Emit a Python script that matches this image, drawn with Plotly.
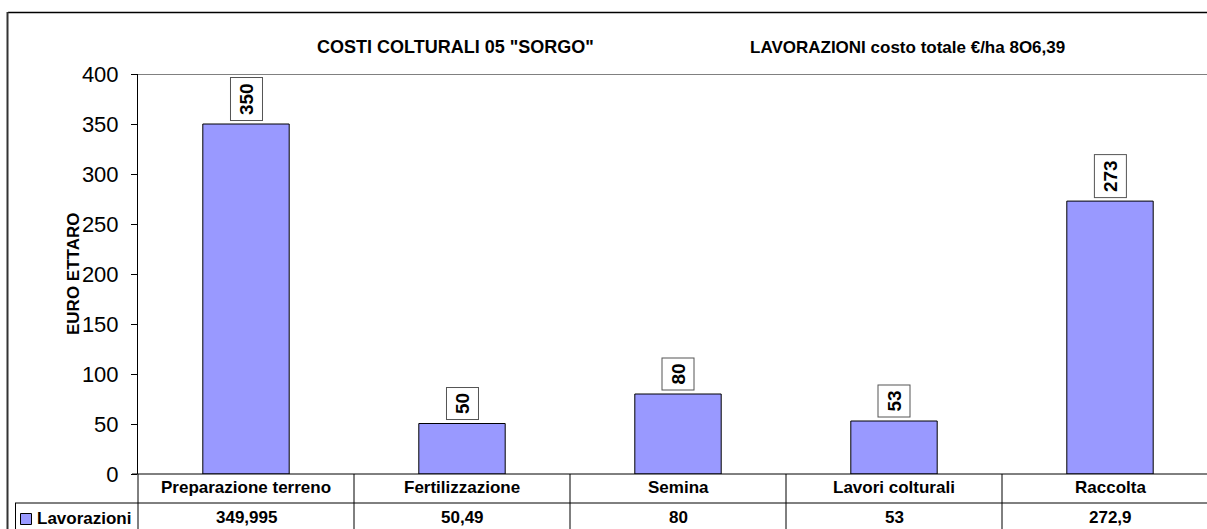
import plotly.graph_objects as go

categories = ["Preparazione terreno", "Fertilizzazione", "Semina", "Lavori colturali", "Raccolta"]
values = [349.995, 50.49, 80, 53, 272.9]
series_name = "Lavorazioni"
title_left = 'COSTI COLTURALI 05 "SORGO"'
title_right = "LAVORAZIONI costo totale €/ha 8O6,39"
y_title = "EURO ETTARO"
y_ticks = [0, 50, 100, 150, 200, 250, 300, 350, 400]

W, H = 1207, 529
L, T, B = 138, 74, 474   # pixel positions of plot area
FONT = "Arial, Liberation Sans, sans-serif"
BAR = "#9999FF"


def px(x):
    return (x - L) / (W - L)


def py(y):
    return (B - y) / (B - T)


xs = list(range(len(categories)))
fig = go.Figure()
fig.add_trace(go.Bar(
    x=xs, y=values, width=0.4,
    marker=dict(color=BAR, line=dict(color="#000000", width=1)),
    name=series_name, showlegend=False, hoverinfo="skip",
))

ann = []
shapes = []
for i, v in enumerate(values):
    ann.append(dict(x=i, y=v, xref="x", yref="y", text=f"<b>{round(v)}</b>",
                    showarrow=False, textangle=-90, yanchor="bottom", xanchor="center",
                    yshift=3, font=dict(family=FONT, size=19, color="black"),
                    bgcolor="white", bordercolor="#555555", borderwidth=1, borderpad=5))
    ann.append(dict(x=i, y=py(488), xref="x", yref="paper", text=f"<b>{categories[i]}</b>",
                    showarrow=False, yanchor="middle", font=dict(family=FONT, size=17, color="black")))
    ann.append(dict(x=i, y=py(517), xref="x", yref="paper",
                    text=f"<b>{format(v, 'g').replace('.', ',')}</b>",
                    showarrow=False, yanchor="middle", font=dict(family=FONT, size=17, color="black")))

ann.append(dict(x=px(455), y=py(47), xref="paper", yref="paper", text=f"<b>{title_left}</b>",
                showarrow=False, xanchor="center", yanchor="middle",
                font=dict(family=FONT, size=18, color="black")))
ann.append(dict(x=px(748), y=py(47), xref="paper", yref="paper", text=f"<b>{title_right}</b>",
                showarrow=False, xanchor="left", yanchor="middle",
                font=dict(family=FONT, size=17, color="black")))
ann.append(dict(x=px(73), y=py(274), xref="paper", yref="paper", text=f"<b>{y_title}</b>",
                showarrow=False, textangle=-90, xanchor="center", yanchor="middle",
                font=dict(family=FONT, size=17, color="black")))
ann.append(dict(x=px(35), y=py(518), xref="paper", yref="paper", text=f"<b>{series_name}</b>",
                showarrow=False, xanchor="left", yanchor="middle",
                font=dict(family=FONT, size=17, color="black")))

# outer frame (left and top)
shapes.append(dict(type="line", xref="paper", yref="paper", x0=px(8), x1=px(1300), y0=py(12.5), y1=py(12.5),
                   line=dict(color="#000000", width=1.5)))
shapes.append(dict(type="line", xref="paper", yref="paper", x0=px(7.5), x1=px(7.5), y0=py(12), y1=py(600),
                   line=dict(color="#333333", width=2)))
# gray top line at max
shapes.append(dict(type="line", xref="paper", yref="y", x0=0, x1=1, y0=400, y1=400,
                   line=dict(color="#808080", width=2)))
# y axis extended into table
shapes.append(dict(type="line", xref="paper", yref="paper", x0=0, x1=0, y0=py(474), y1=py(600),
                   line=dict(color="#000000", width=1)))
# table horizontal lines
shapes.append(dict(type="line", xref="paper", yref="paper", x0=px(132), x1=1, y0=py(474), y1=py(474),
                   line=dict(color="#000000", width=1)))
shapes.append(dict(type="line", xref="paper", yref="paper", x0=px(15), x1=1, y0=py(503), y1=py(503),
                   line=dict(color="#000000", width=1)))
shapes.append(dict(type="line", xref="paper", yref="paper", x0=px(15.5), x1=px(15.5), y0=py(503), y1=py(600),
                   line=dict(color="#000000", width=1)))
for i in range(len(categories) - 1):
    shapes.append(dict(type="line", xref="x", yref="paper", x0=i + 0.5, x1=i + 0.5, y0=py(474), y1=py(600),
                       line=dict(color="#000000", width=1)))
# legend key square
shapes.append(dict(type="rect", xref="paper", yref="paper", x0=px(20.5), x1=px(31.5), y0=py(513.5), y1=py(524.5),
                   fillcolor=BAR, line=dict(color="#000000", width=1)))

fig.update_layout(
    width=W, height=H,
    margin=dict(l=L, r=0, t=T, b=H - B, autoexpand=False),
    paper_bgcolor="white", plot_bgcolor="white",
    showlegend=False,
    xaxis=dict(range=[-0.5, -0.5 + (W - L) / 216.0], showticklabels=False, ticks="",
               showgrid=False, zeroline=False, showline=False, fixedrange=True),
    yaxis=dict(range=[0, 400], tickvals=y_ticks, ticks="outside", ticklen=6, tickcolor="black",
               tickwidth=1, showline=True, linecolor="black", linewidth=1, showgrid=False,
               zeroline=False, tickfont=dict(family=FONT, size=22, color="black"),
               ticklabelstandoff=8, automargin=False),
    annotations=ann, shapes=shapes,
)

fig.write_html(
    "out.html",
    config={"displayModeBar": False},
    post_script="document.body.style.margin='0';document.body.style.overflow='hidden';"
                "document.documentElement.style.overflow='hidden';",
)
